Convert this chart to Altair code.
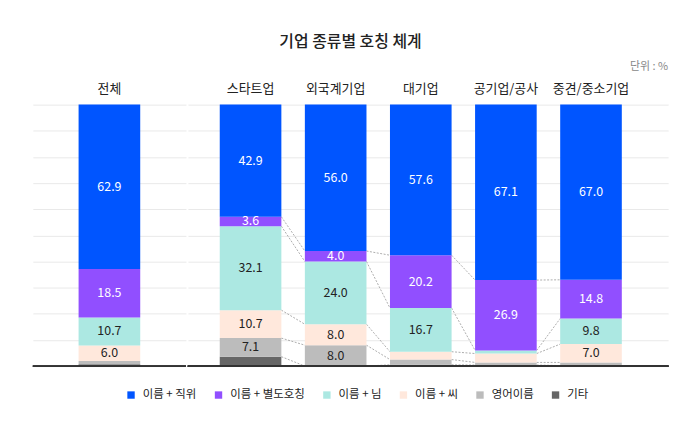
import altair as alt
import pandas as pd

groups = ["전체", "스타트업", "외국계기업", "대기업", "공기업/공사", "중견/중소기업"]
types = ["이름 + 직위", "이름 + 별도호칭", "이름 + 님", "이름 + 씨", "영어이름", "기타"]
palette = ["#0055ff", "#914fff", "#ace8e2", "#ffe8dc", "#bcbcbc", "#666666"]

v_jikwi = [62.9, 42.9, 56.0, 57.6, 67.1, 67.0]
v_byeoldo = [18.5, 3.6, 4.0, 20.2, 26.9, 14.8]
v_nim = [10.7, 32.1, 24.0, 16.7, 1.2, 9.8]
v_ssi = [6.0, 10.7, 8.0, 3.0, 3.4, 7.0]
v_eng = [1.2, 7.1, 8.0, 2.0, 1.0, 1.2]
v_etc = [0.7, 3.6, 0.0, 0.5, 0.4, 0.2]

series = [v_jikwi, v_byeoldo, v_nim, v_ssi, v_eng, v_etc]

rows = []
tops = {}
for gi, g in enumerate(groups):
    cum = 0.0
    for k in range(len(types) - 1, -1, -1):
        v = series[k][gi]
        lo, hi = cum, cum + v
        cum = hi
        tops[(g, k)] = hi
        show = v >= 3.5 and types[k] != "기타"
        rows.append({"group": g, "type": types[k], "order": k, "value": v,
                     "lo": lo, "hi": hi, "mid": (lo + hi) / 2,
                     "label": f"{v:.1f}" if show else ""})
df = pd.DataFrame(rows)

right_groups = groups[1:]
conn = []
for i in range(len(right_groups) - 1):
    a, b = right_groups[i], right_groups[i + 1]
    for k in range(1, len(types)):
        conn.append({"from": a, "to": b, "y1": tops[(a, k)], "y2": tops[(b, k)]})
conn_df = pd.DataFrame(conn)

FONT = "Noto Sans CJK KR"
white_types = types[:2]

color_enc = alt.Color(
    "type:N",
    scale=alt.Scale(domain=types, range=palette),
    legend=alt.Legend(
        title=None, orient="none", direction="horizontal", legendX=93, legendY=286,
        symbolType="square", symbolSize=55, symbolStrokeWidth=0,
        labelFontSize=11.5, labelColor="#222", labelFont=FONT, labelOffset=6,
        columnPadding=16,
    ),
)

yscale = alt.Scale(domain=[0, 100], nice=False)


def yaxis():
    return alt.Axis(grid=True, gridColor="#e9e9e9", values=list(range(0, 101, 10)),
                    labels=False, ticks=False, domain=False, title=None)


def xaxis():
    return alt.Axis(orient="top", title=None, ticks=False, domain=False, grid=False,
                    labelFontSize=13, labelColor="#222", labelFont=FONT,
                    labelPadding=9, labelAngle=0)


def panel(data, xscale, width, with_conn):
    base = alt.Chart(data)
    bars = base.mark_bar(stroke=None).encode(
        x=alt.X("group:N", scale=xscale, axis=xaxis(), sort=None),
        y=alt.Y("lo:Q", scale=yscale, axis=yaxis()),
        y2="hi:Q",
        color=color_enc,
    )
    labels = base.transform_filter("datum.label != ''").mark_text(
        fontSize=12.5, font=FONT
    ).encode(
        x=alt.X("group:N", sort=None, axis=xaxis()),
        y=alt.Y("mid:Q", axis=yaxis()),
        text="label:N",
        color=alt.condition(alt.FieldOneOfPredicate(field="type", oneOf=white_types),
                            alt.value("white"), alt.value("#222")),
    )
    baseline = base.mark_rule(color="#333", strokeWidth=1).encode(
        y=alt.Y(datum=0, axis=yaxis()))
    layers = []
    if with_conn:
        connectors = alt.Chart(conn_df).mark_rule(
            color="#999", strokeWidth=0.8, strokeDash=[2, 1.5]
        ).encode(
            x=alt.X("from:N", bandPosition=1, sort=None, axis=xaxis()),
            x2=alt.X2("to:N", bandPosition=0),
            y=alt.Y("y1:Q", axis=yaxis()),
            y2="y2:Q",
        )
        layers.append(connectors)
    layers += [bars, labels, baseline]
    return alt.layer(*layers).properties(width=width, height=263)


left_scale = alt.Scale(domain=groups[:1], paddingInner=0, paddingOuter=0.742)
right_scale = alt.Scale(domain=right_groups, paddingInner=0.276, paddingOuter=0.459, align=0.407)

left = panel(df[df["group"] == groups[0]], left_scale, 154, False)
right = panel(df[df["group"] != groups[0]], right_scale, 483, True).properties(
    title=alt.TitleParams("단위 : %", anchor="end", frame="group", fontSize=11,
                          color="#888", fontWeight="normal", font=FONT, offset=11)
)

chart = alt.hconcat(left, right, spacing=0).resolve_scale(x="independent").properties(
    title=alt.TitleParams("기업 종류별 호칭 체계", anchor="middle", fontSize=16,
                          fontWeight=500, color="#222", font=FONT, offset=11),
    padding={"left": 24, "top": 25, "right": 23, "bottom": 10},
    background="white",
).configure_view(stroke=None)

chart.save("out.html", embed_options={"renderer": "svg", "actions": False})
